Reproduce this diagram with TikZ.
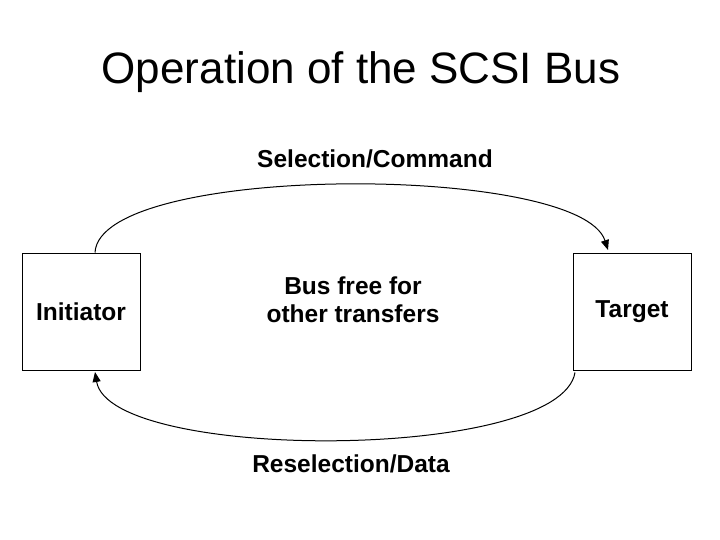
\documentclass[tikz,border=0pt]{standalone}
\usepackage{fontspec}
\setmainfont{Liberation Sans}
\usetikzlibrary{arrows.meta}
\begin{document}
\begin{tikzpicture}[x=1pt,y=-1pt,
  box/.style={draw,line width=1pt,minimum width=118pt,minimum height=117pt,inner sep=0pt,font=\bfseries\fontsize{24.5}{28}\selectfont},
  lbl/.style={font=\bfseries\fontsize{24.5}{28}\selectfont,align=center},
  arc/.style={line width=1pt,-{Triangle[length=10pt,width=8pt]}}]
\useasboundingbox (0,0) rectangle (720,540);
\node[font=\fontsize{44}{50}\selectfont] (title) at (361,72) {Operation of the SCSI Bus};
\node[box] (ini) at (81,311.5) {Initiator};
\node[box] (tgt) at (632,311.5) {Target};
\node[lbl] (top) at (375,159) {Selection/Command};
\node[lbl] (mid) at (353,300) {Bus free for\\other transfers};
\node[lbl] (bot) at (351,464) {Reselection/Data};
\draw[arc] (ini.north) ++(14,0) coordinate (a1) .. controls (100,163) and (580,163) .. (608,250) coordinate (a2);
\draw[arc] (tgt.south) ++(-57,2) coordinate (b1) .. controls (560,462) and (110,462) .. (95,372) coordinate (b2);
\end{tikzpicture}
\end{document}
